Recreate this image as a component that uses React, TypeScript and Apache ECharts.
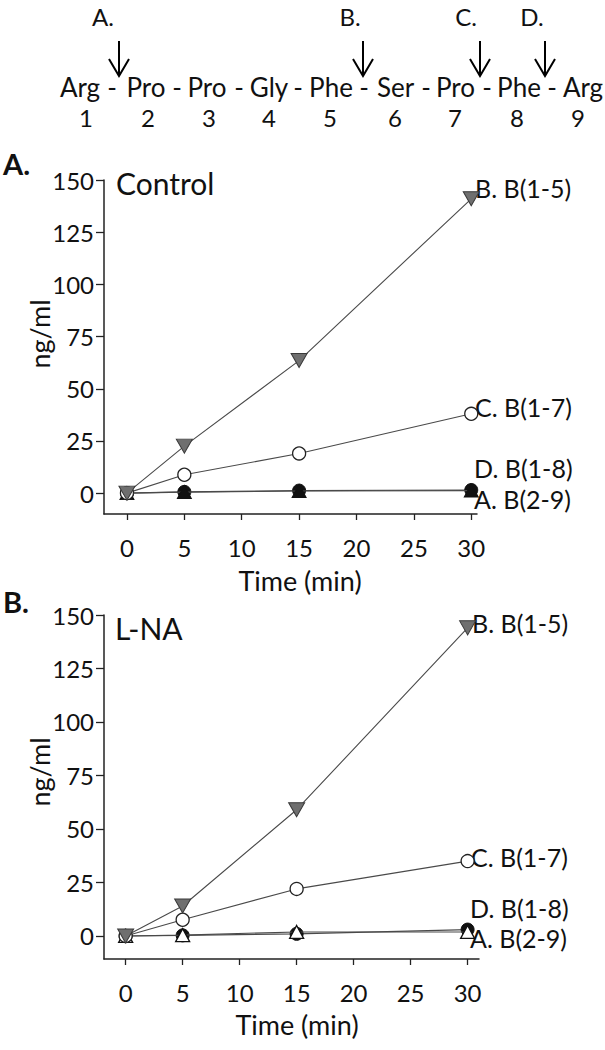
import React, { useEffect, useRef } from "react";
import * as echarts from "echarts";

// ---------- data ----------
const residues = ["Arg", "Pro", "Pro", "Gly", "Phe", "Ser", "Pro", "Phe", "Arg"];
const residueNumbers = ["1", "2", "3", "4", "5", "6", "7", "8", "9"];
const cleavageLabels = ["A.", "B.", "C.", "D."];

const timePoints = [0, 5, 15, 30];
const xTicks = [0, 5, 10, 15, 20, 25, 30];
const yTicks = [0, 25, 50, 75, 100, 125, 150];

// Panel A – Control (ng/ml)
const controlB15 = [0, 22.5, 63.5, 141];
const controlB17 = [0, 8.8, 19, 38];
const controlB18 = [0, 0.6, 1.2, 1.5];
const controlB29 = [0, 0.5, 1.0, 1.2];

// Panel B – L-NA (ng/ml)
const lnaB15 = [0, 14, 59, 144];
const lnaB17 = [0, 7.6, 22, 35];
const lnaB18 = [0, 0.3, 1.0, 3.0];
const lnaB29 = [0, 0.4, 1.9, 1.9];

const seriesNames = ["B. B(1-5)", "C. B(1-7)", "D. B(1-8)", "A. B(2-9)"];

const FONT = "Lato, 'Open Sans', sans-serif";

function pairs(vals: number[]) {
  return timePoints.map((t, i) => [t, vals[i]]);
}

function panelSeries(
  idx: number,
  b15: number[],
  b17: number[],
  b18: number[],
  b29: number[],
  openTriangle: boolean
) {
  const line = { color: "#4a4a4a", width: 1.1 };
  return [
    {
      name: seriesNames[2],
      type: "line",
      xAxisIndex: idx,
      yAxisIndex: idx,
      data: pairs(b18),
      symbol: "circle",
      symbolSize: 13,
      itemStyle: { color: "#111", borderColor: "#111", borderWidth: 1 },
      lineStyle: line,
      z: 3,
    },
    {
      name: seriesNames[3],
      type: "line",
      xAxisIndex: idx,
      yAxisIndex: idx,
      data: pairs(b29),
      symbol: "triangle",
      symbolSize: [14, 13],
      itemStyle: openTriangle
        ? { color: "#fff", borderColor: "#111", borderWidth: 1.3 }
        : { color: "#111", borderColor: "#111", borderWidth: 1 },
      lineStyle: line,
      z: 4,
    },
    {
      name: seriesNames[1],
      type: "line",
      xAxisIndex: idx,
      yAxisIndex: idx,
      data: pairs(b17),
      symbol: "circle",
      symbolSize: 13,
      itemStyle: { color: "#fff", borderColor: "#222", borderWidth: 1.3 },
      lineStyle: line,
      z: 5,
    },
    {
      name: seriesNames[0],
      type: "line",
      xAxisIndex: idx,
      yAxisIndex: idx,
      data: pairs(b15),
      symbol: "triangle",
      symbolRotate: 180,
      symbolSize: [16, 14],
      itemStyle: { color: "#6f6f6f", borderColor: "#3a3a3a", borderWidth: 1 },
      lineStyle: line,
      z: 6,
    },
  ];
}

function xAxisDef(idx: number, min: number, max: number) {
  return {
    type: "value",
    gridIndex: idx,
    min,
    max,
    position: "bottom",
    axisLine: { show: true, onZero: false, lineStyle: { color: "#222", width: 1.5 } },
    axisTick: { show: true, customValues: xTicks, length: 6, lineStyle: { color: "#222", width: 1.3 } },
    axisLabel: {
      show: true,
      customValues: xTicks,
      margin: 21,
      fontSize: 24,
      fontFamily: FONT,
      color: "#111",
    },
    splitLine: { show: false },
  };
}

function yAxisDef(idx: number, min: number) {
  return {
    type: "value",
    gridIndex: idx,
    min,
    max: 150,
    axisLine: { show: true, onZero: false, lineStyle: { color: "#222", width: 1.5 } },
    axisTick: { show: true, customValues: yTicks, length: 8, lineStyle: { color: "#222", width: 1.3 } },
    axisLabel: {
      show: true,
      customValues: yTicks,
      margin: 10,
      fontSize: 24,
      fontFamily: FONT,
      color: "#111",
    },
    splitLine: { show: false },
  };
}

function txt(
  text: string,
  x: number,
  y: number,
  size: number,
  align: string = "left",
  extra: any = {}
) {
  return {
    type: "text",
    x,
    y,
    ...extra,
    style: {
      text,
      fontSize: size,
      fontFamily: FONT,
      fill: "#111",
      align,
      verticalAlign: "middle",
      ...(extra.style || {}),
    },
  };
}

function arrow(x: number) {
  return {
    type: "group",
    children: [
      { type: "line", shape: { x1: x, y1: 41, x2: x, y2: 76 }, style: { stroke: "#000", lineWidth: 2 } },
      {
        type: "polyline",
        shape: { points: [[x - 10, 59], [x, 76], [x + 10, 59]] },
        style: { stroke: "#000", lineWidth: 2, fill: null },
      },
    ],
  };
}

export default function App() {
  const ref = useRef<HTMLDivElement>(null);

  useEffect(() => {
    document.body.style.margin = "0";
    const chart = echarts.init(ref.current!, null, { renderer: "svg" });

    const residueX = [80, 146, 207, 269, 331, 395.5, 455.5, 519, 583];
    const hyphenX = [112, 177, 239, 298, 364, 426, 487, 552];
    const numberX = [86, 148, 209, 269, 330, 395, 455, 517, 578];
    const cleavageX = [103, 350, 466, 532];
    const arrowX = [119, 363, 480, 545];

    const graphics: any[] = [];
    residues.forEach((r, i) => graphics.push(txt(r, residueX[i], 87, 26, "center")));
    hyphenX.forEach((x) => graphics.push(txt("-", x, 87, 26, "center")));
    residueNumbers.forEach((n, i) => graphics.push(txt(n, numberX[i], 117, 24, "center")));
    cleavageLabels.forEach((c, i) => graphics.push(txt(c, cleavageX[i], 16, 24, "center")));
    arrowX.forEach((x) => graphics.push(arrow(x)));

    // panel titles
    graphics.push(txt("A.", 3, 163, 29, "left", { style: { fontWeight: "bold" } }));
    graphics.push(txt("B.", 3, 601, 29, "left", { style: { fontWeight: "bold" } }));
    graphics.push(txt("Control", 116, 183, 30));
    graphics.push(txt("L-NA", 115, 628, 30));

    // axis titles
    graphics.push(txt("ng/ml", 39, 334, 27, "center", { rotation: Math.PI / 2 }));
    graphics.push(txt("ng/ml", 39, 772, 27, "center", { rotation: Math.PI / 2 }));
    graphics.push(txt("Time (min)", 300, 580, 27, "center"));
    graphics.push(txt("Time (min)", 297, 1024, 27, "center"));

    // series end labels
    const labA = [
      [475, 188],
      [475, 407],
      [474, 468],
      [474, 499],
    ];
    const labB = [
      [472, 623],
      [471, 857],
      [470, 908],
      [470, 938],
    ];
    seriesNames.forEach((s, i) => {
      graphics.push(txt(s, labA[i][0], labA[i][1], 25));
      graphics.push(txt(s, labB[i][0], labB[i][1], 25));
    });

    chart.setOption({
      animation: false,
      backgroundColor: "#fff",
      grid: [
        { left: 104, top: 180, width: 373, height: 334 },
        { left: 104, top: 615, width: 375, height: 344 },
      ],
      xAxis: [xAxisDef(0, -2, 30.5), xAxisDef(1, -1.9, 31)],
      yAxis: [yAxisDef(0, -10), yAxisDef(1, -10.75)],
      series: [
        ...panelSeries(0, controlB15, controlB17, controlB18, controlB29, false),
        ...panelSeries(1, lnaB15, lnaB17, lnaB18, lnaB29, true),
      ],
      graphic: graphics,
    });

    return () => chart.dispose();
  }, []);

  return (
    <div
      ref={ref}
      style={{ position: "absolute", left: 0, top: 0, width: 605, height: 1050 }}
    />
  );
}
